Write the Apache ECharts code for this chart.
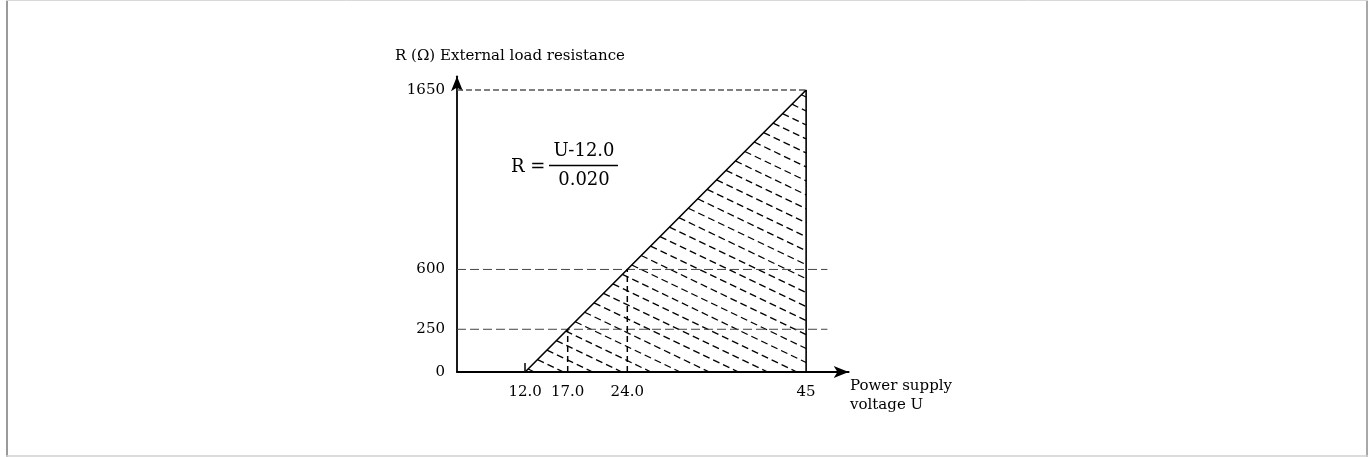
<!DOCTYPE html>
<html>
<head>
<meta charset="utf-8">
<script src="https://cdn.jsdelivr.net/npm/echarts@6/dist/echarts.min.js"></script>
<style>
  html, body { margin: 0; padding: 0; background: #fff; }
  #chart { width: 1370px; height: 457px; }
</style>
</head>
<body>
<div id="chart"></div>
<script>
// ---- data ----
const uTickValues = [12.0, 17.0, 24.0, 45];
const uTickLabels = ['12.0', '17.0', '24.0', '45'];
const rTickValues = [0, 250, 600, 1650];
const rTickLabels = ['0', '250', '600', '1650'];
// Load line R = (U - 12.0) / 0.020
const loadLineU = [12.0, 45];
const loadLineR = [0, 1650];
// working points marked by dashed guides
const pointU = [17.0, 24.0];
const pointR = [250, 600];
const guideEndU = 47.5;   // where the 250 / 600 dashed guides stop

// ---- layout ----
const xMin = 4, xMax = 50, yMin = 0, yMax = 1730;
const FONT = '"DejaVu Serif", "Liberation Serif", serif';

const chart = echarts.init(document.getElementById('chart'), null, { renderer: 'canvas' });

const series = [];

// hatched triangle (custom series: corners through the axes' scale)
series.push({
  type: 'custom',
  silent: true,
  z: 1,
  data: [[loadLineU[0], loadLineR[0], loadLineU[1], loadLineR[1]]],
  renderItem: function (params, api) {
    const A = api.coord([api.value(0), api.value(1)]);
    const B = api.coord([api.value(2), api.value(3)]);
    const C = api.coord([api.value(2), api.value(1)]);
    const tri = [A, B, C];
    const ang = 25.6 * Math.PI / 180;
    const d = [Math.cos(ang), Math.sin(ang)];
    const n = [-Math.sin(ang), Math.cos(ang)];
    const dots = tri.map(p => n[0] * p[0] + n[1] * p[1]);
    const cMin = Math.min.apply(null, dots), cMax = Math.max.apply(null, dots);
    const step = 12.6;
    const cross = (a, b) => a[0] * b[1] - a[1] * b[0];
    const children = [];
    for (let c = cMax - 4; c > cMin; c -= step) {
      const P0 = [n[0] * c, n[1] * c];
      const ts = [];
      for (let i = 0; i < 3; i++) {
        const P = tri[i], Q = tri[(i + 1) % 3];
        const e = [Q[0] - P[0], Q[1] - P[1]];
        const den = cross(d, e);
        if (Math.abs(den) < 1e-9) continue;
        const w = [P[0] - P0[0], P[1] - P0[1]];
        const t = cross(w, e) / den;
        const s = cross(w, d) / den;
        if (s >= -1e-9 && s <= 1 + 1e-9) ts.push(t);
      }
      if (ts.length < 2) continue;
      const t1 = Math.min.apply(null, ts), t2 = Math.max.apply(null, ts);
      if (t2 - t1 < 1) continue;
      children.push({
        type: 'line',
        shape: {
          x1: P0[0] + d[0] * t1, y1: P0[1] + d[1] * t1,
          x2: P0[0] + d[0] * t2, y2: P0[1] + d[1] * t2
        },
        style: { stroke: '#000', lineWidth: 1.3, lineDash: [7, 4] }
      });
    }
    return { type: 'group', children: children };
  }
});

function lineSeries(data, style, z) {
  return {
    type: 'line', data: data, symbol: 'none', silent: true, z: z || 3,
    lineStyle: style, animation: false
  };
}

// load line + right edge (solid)
series.push(lineSeries(
  [[loadLineU[0], loadLineR[0]], [loadLineU[1], loadLineR[1]], [loadLineU[1], 0]],
  { color: '#000', width: 1.6 }, 5));
// dashed top guide at 1650
series.push(lineSeries([[xMin, loadLineR[1]], [loadLineU[1], loadLineR[1]]],
  { color: '#555', width: 1.5, type: [6, 3] }));
// dashed guides for working points
for (let i = 0; i < pointU.length; i++) {
  series.push(lineSeries([[xMin, pointR[i]], [guideEndU, pointR[i]]],
    { color: '#444', width: 1, type: [9, 4] }));
  series.push(lineSeries([[pointU[i], 0], [pointU[i], pointR[i]]],
    { color: '#000', width: 1.5, type: [6, 4] }));
}

const option = {
  animation: false,
  backgroundColor: '#fff',
  grid: { left: 457, right: 521.3, top: 76.3, bottom: 85, containLabel: false },
  xAxis: {
    type: 'value', min: xMin, max: xMax,
    axisLine: { onZero: false, lineStyle: { color: '#000', width: 1.8 },
      symbol: ['none', 'arrow'], symbolSize: [9, 15] },
    axisTick: { show: true, inside: true, length: 9, customValues: [uTickValues[0]],
      lineStyle: { color: '#000', width: 1.5 } },
    axisLabel: {
      customValues: uTickValues, margin: 13,
      fontFamily: FONT, fontSize: 15, color: '#000',
      formatter: v => { const i = uTickValues.indexOf(v); return i >= 0 ? uTickLabels[i] : ''; }
    },
    splitLine: { show: false }
  },
  yAxis: {
    type: 'value', min: yMin, max: yMax,
    axisLine: { show: true, lineStyle: { color: '#000', width: 1.8 },
      symbol: ['none', 'arrow'], symbolSize: [9, 15] },
    axisTick: { show: false },
    axisLabel: {
      customValues: rTickValues, margin: 12,
      fontFamily: FONT, fontSize: 15, color: '#000',
      formatter: v => { const i = rTickValues.indexOf(v); return i >= 0 ? rTickLabels[i] : ''; }
    },
    splitLine: { show: false }
  },
  graphic: [
    // outer frame
    { type: 'line', shape: { x1: 7, y1: 0, x2: 7, y2: 457 }, style: { stroke: '#9a9a9a', lineWidth: 2 } },
    { type: 'line', shape: { x1: 1367, y1: 0, x2: 1367, y2: 457 }, style: { stroke: '#a8a8a8', lineWidth: 2 } },
    { type: 'line', shape: { x1: 6, y1: 0.5, x2: 1368, y2: 0.5 }, style: { stroke: '#d8d8d8', lineWidth: 1 } },
    { type: 'line', shape: { x1: 6, y1: 456, x2: 1368, y2: 456 }, style: { stroke: '#d0d0d0', lineWidth: 1.5 } },
    // axis names
    { type: 'text', x: 395, y: 56,
      style: { text: 'R (Ω) External load resistance', font: '15px ' + FONT, fill: '#000',
        align: 'left', verticalAlign: 'middle', textAlign: 'left', textVerticalAlign: 'middle' } },
    { type: 'text', x: 850, y: 386,
      style: { text: 'Power supply', font: '15px ' + FONT, fill: '#000',
        align: 'left', verticalAlign: 'middle', textAlign: 'left', textVerticalAlign: 'middle' } },
    { type: 'text', x: 850, y: 405,
      style: { text: 'voltage U', font: '15px ' + FONT, fill: '#000',
        align: 'left', verticalAlign: 'middle', textAlign: 'left', textVerticalAlign: 'middle' } },
    // formula
    { type: 'text', x: 511, y: 167,
      style: { text: 'R =', font: '18px ' + FONT, fill: '#000',
        align: 'left', verticalAlign: 'middle', textAlign: 'left', textVerticalAlign: 'middle' } },
    { type: 'text', x: 584, y: 151,
      style: { text: 'U-12.0', font: '18px ' + FONT, fill: '#000',
        align: 'center', verticalAlign: 'middle', textAlign: 'center', textVerticalAlign: 'middle' } },
    { type: 'line', shape: { x1: 549, y1: 165.5, x2: 618, y2: 165.5 }, style: { stroke: '#000', lineWidth: 1.5 } },
    { type: 'text', x: 584, y: 180,
      style: { text: '0.020', font: '18px ' + FONT, fill: '#000',
        align: 'center', verticalAlign: 'middle', textAlign: 'center', textVerticalAlign: 'middle' } }
  ],
  series: series
};

chart.setOption(option);
</script>
</body>
</html>
